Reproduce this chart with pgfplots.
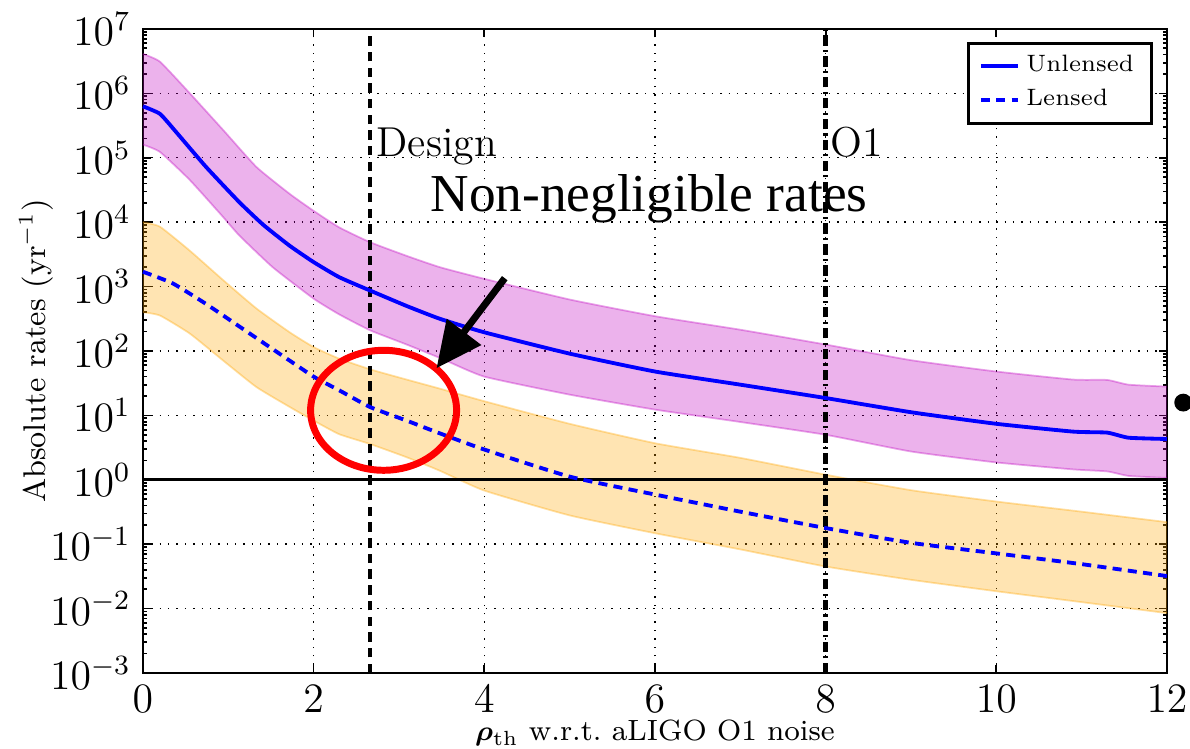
\documentclass[border=0pt]{standalone}
\usepackage{fontspec}
\newfontfamily\timesfont{Liberation Serif}
\usepackage{amsmath}
\usepackage{bm}
\usepackage{pgfplots}
\pgfplotsset{compat=1.18}
\usepgfplotslibrary{fillbetween}
\usetikzlibrary{arrows.meta}

\definecolor{bandp}{RGB}{191,0,191}
\definecolor{bando}{RGB}{255,165,0}
\definecolor{mplblue}{RGB}{0,0,255}

\begin{document}
\begin{tikzpicture}
  \begin{axis}[
    scale only axis,
    width=10.326cm, height=6.494cm,
    ymode=log,
    xmin=0, xmax=12, ymin=1e-3, ymax=1e7,
    xtick={0,2,...,12},
    ytick={1e-3,1e-2,1e-1,1,10,100,1e3,1e4,1e5,1e6,1e7},
    minor x tick num=0,
    tick align=inside,
    major tick length=0.08cm, minor tick length=0.045cm,
    every tick/.style={black, line width=0.5pt},
    axis line style={line width=0.7pt},
    grid=major,
    major grid style={black, dotted, line width=0.4pt},
    tick label style={font=\fontsize{12}{14}\selectfont},
    xlabel={$\bm{\rho}_{\mathrm{th}}$ w.r.t.\ aLIGO O1 noise},
    ylabel={Absolute rates (yr$^{-1}$)},
    every axis x label/.style={at={(rel axis cs:0.5,-0.093)}, anchor=center,
      font=\fontsize{8.4}{10}\selectfont},
    every axis y label/.style={at={(rel axis cs:-0.104,0.5)}, rotate=90, anchor=center,
      font=\fontsize{9}{11}\selectfont},
    legend style={at={(rel axis cs:0.986,0.980)}, anchor=north east,
      draw=black, line width=0.8pt, font=\fontsize{6.8}{8}\selectfont,
      inner xsep=3pt, inner ysep=1.5pt, row sep=-0.5pt},
    legend cell align=left,
    legend image code/.code={\draw[#1, line width=1.1pt] (0cm,0cm) -- (0.37cm,0cm);},
    clip=false,
  ]
    % unlensed band
    \addplot[forget plot, name path=uu, draw=bandp, draw opacity=0.35, line width=0.5pt, smooth, tension=0.3] coordinates {
      (0,4.1e6) (0.2,3.1e6) (0.55,1.0e6) (0.94,2.7e5) (1.33,7.2e4) (1.72,2.75e4)
      (2,1.5e4) (2.3,8.3e3) (2.66,4.9e3) (3.09,3.0e3) (3.48,2.0e3) (4,1.32e3)
      (5,630) (6,347) (7,214) (8,126)
      (9,72) (10,48) (10.9,36) (11.3,35.5) (11.55,30) (12,28)
    };
    \addplot[forget plot, name path=ul, draw=bandp, draw opacity=0.35, line width=0.5pt, smooth, tension=0.3] coordinates {
      (0,1.6e5) (0.2,1.23e5) (0.55,4.5e4) (0.94,1.2e4) (1.13,6.2e3) (1.52,2.0e3)
      (2,650) (2.3,370) (2.66,210) (3.09,126) (3.5,76) (4,40)
      (5,21) (6,12.3) (7,7.9) (8,5.0)
      (9,2.75) (10,1.86) (10.9,1.45) (11.3,1.35) (11.55,1.15) (12,1.07)
    };
    \addplot[forget plot, fill=bandp, fill opacity=0.3, draw=none] fill between[of=uu and ul];
    % lensed band
    \addplot[forget plot, name path=lu, draw=bando, draw opacity=0.35, line width=0.5pt, smooth, tension=0.3] coordinates {
      (0,1.0e4) (0.2,8.5e3) (0.55,3.6e3) (0.94,1.26e3) (1.33,457) (1.72,195)
      (2,115) (2.3,76) (2.66,52) (3.09,36) (3.48,26) (4,16.6)
      (5,7.4) (6,3.7) (7,2.19) (8,1.2)
      (9,0.69) (10,0.46) (11,0.32) (12,0.22)
    };
    \addplot[forget plot, name path=ll, draw=bando, draw opacity=0.35, line width=0.5pt, smooth, tension=0.3] coordinates {
      (0,400) (0.2,355) (0.55,186) (0.94,71) (1.33,27.5) (1.72,13.5)
      (2,8.3) (2.3,5.1) (2.66,3.6) (3.09,2.24) (3.48,1.38) (4,0.68)
      (5,0.28) (6,0.148) (7,0.083) (8,0.045)
      (9,0.028) (10,0.0186) (11,0.0126) (12,0.0085)
    };
    \addplot[forget plot, fill=bando, fill opacity=0.3, draw=none] fill between[of=lu and ll];

    % reference lines
    \addplot[forget plot, black, line width=0.9pt] coordinates {(0,1) (12,1)};
    \addplot[forget plot, black, line width=1.3pt, dash pattern=on 2.7pt off 1.8pt] coordinates {(2.66,1e-3) (2.66,1e7)};
    \addplot[forget plot, black, line width=1.3pt, dash pattern=on 3pt off 1.2pt on 0.6pt off 1.2pt] coordinates {(8,1e-3) (8,1e7)};

    % central curves
    \addplot[mplblue, line width=1.1pt, smooth, tension=0.3] coordinates {
      (0,6.3e5) (0.2,4.8e5) (0.39,2.5e5) (0.74,7.2e4) (1.13,2.04e4) (1.41,9.1e3)
      (1.72,4.3e3) (2,2.4e3) (2.3,1.4e3) (2.66,870) (3.09,500) (3.48,316)
      (4,195) (5,91) (6,48) (7,30) (8,18.6)
      (9,11.2) (10,7.4) (10.9,5.6) (11.3,5.4) (11.55,4.5) (12,4.3)
    };
    \addlegendentry{Unlensed}
    \addplot[mplblue, line width=1.1pt, dash pattern=on 2.6pt off 1.8pt, smooth, tension=0.3] coordinates {
      (0,1.7e3) (0.35,1.12e3) (0.74,537) (1.13,240) (1.52,107) (2,40)
      (2.3,24.5) (2.66,13.5) (3.09,8.3) (3.44,5.5) (4,2.95) (5,1.12)
      (6,0.59) (7,0.32) (8,0.178)
      (9,0.105) (10,0.072) (11,0.049) (12,0.032)
    };
    \addlegendentry{Lensed}

    % annotations
    \node[anchor=base west, font=\fontsize{12}{14}\selectfont, inner sep=0pt] at (axis cs:2.73,1.05e5) {Design};
    \node[anchor=base west, font=\fontsize{12}{14}\selectfont, inner sep=0pt] at (axis cs:8.05,1.05e5) {O1};
    \node[anchor=base, font=\timesfont\fontsize{15.3}{18}\selectfont, inner sep=0pt] at (axis cs:5.93,1.44e4) {Non-negligible rates};
    \draw[red, line width=2pt] (axis cs:2.82,12) ellipse [x radius=0.736cm, y radius=0.605cm];
    \draw[black, line width=2pt, -{Triangle[length=0.46cm, width=0.42cm]}] (axis cs:4.24,1.35e3) -- (axis cs:3.44,54);
    \fill[black] (axis cs:12.19,15.8) circle[radius=0.09cm];

    \coordinate (bbl) at (rel axis cs:-0.1396,-0.118);
    \coordinate (btr) at (rel axis cs:1.0225,1.045);
  \end{axis}
  \pgfresetboundingbox
  \path[use as bounding box] (bbl) rectangle (btr);
\end{tikzpicture}
\end{document}
